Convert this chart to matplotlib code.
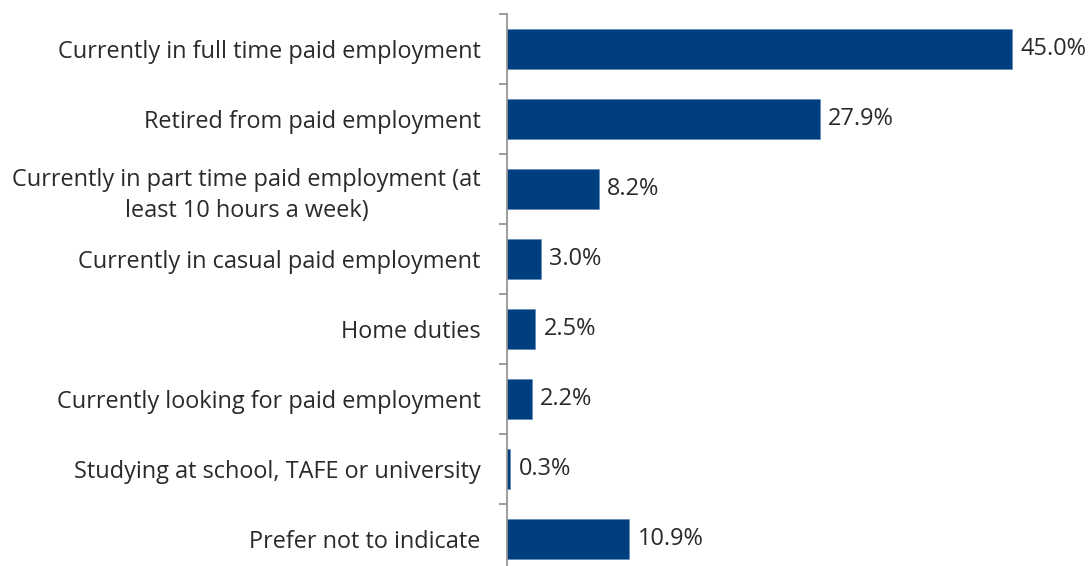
import numpy as np
import matplotlib.pyplot as plt
from matplotlib.ticker import FixedLocator

categories = [
    "Currently in full time paid employment",
    "Retired from paid employment",
    "Currently in part time paid employment (at\nleast 10 hours a week)",
    "Currently in casual paid employment",
    "Home duties",
    "Currently looking for paid employment",
    "Studying at school, TAFE or university",
    "Prefer not to indicate",
]
values = [45.0, 27.9, 8.2, 3.0, 2.5, 2.2, 0.3, 10.9]

plt.rcParams['font.family'] = ['Open Sans', 'DejaVu Sans']
FS = 16.9
TXT = '#2a2a2a'

fig = plt.figure(figsize=(10.92, 5.66), dpi=100)
ax = fig.add_axes([0.4643, -0.0141, 0.5137, 0.9894])

y = np.arange(len(categories))
ax.barh(y, values, height=0.57, color='#003f7f', edgecolor='#5b86b8', linewidth=0.4)

for yi, v in zip(y, values):
    ax.annotate(f"{v:.1f}%", (v, yi), xytext=(6, 0), textcoords='offset points',
                va='center', ha='left', fontsize=FS, color=TXT)

ax.set_xlim(0, 50)
ax.set_ylim(len(categories) - 0.5, -0.5)
ax.set_yticks(y)
ax.set_yticklabels(categories, fontsize=FS, color=TXT, linespacing=1.4)
for lbl in ax.get_yticklabels():
    lbl.set_multialignment('center')

# short ticks between the categories
ax.yaxis.set_minor_locator(FixedLocator(np.arange(-0.5, len(categories), 1)))
ax.tick_params(axis='y', which='major', length=0, pad=19)
ax.tick_params(axis='y', which='minor', length=6, width=1.2, color='#8c8c8c')
ax.set_xticks([])
for side in ['top', 'right', 'bottom']:
    ax.spines[side].set_visible(False)
ax.spines['left'].set_color('#8c8c8c')
ax.spines['left'].set_linewidth(1.2)

fig.savefig('out.png', dpi=100)
